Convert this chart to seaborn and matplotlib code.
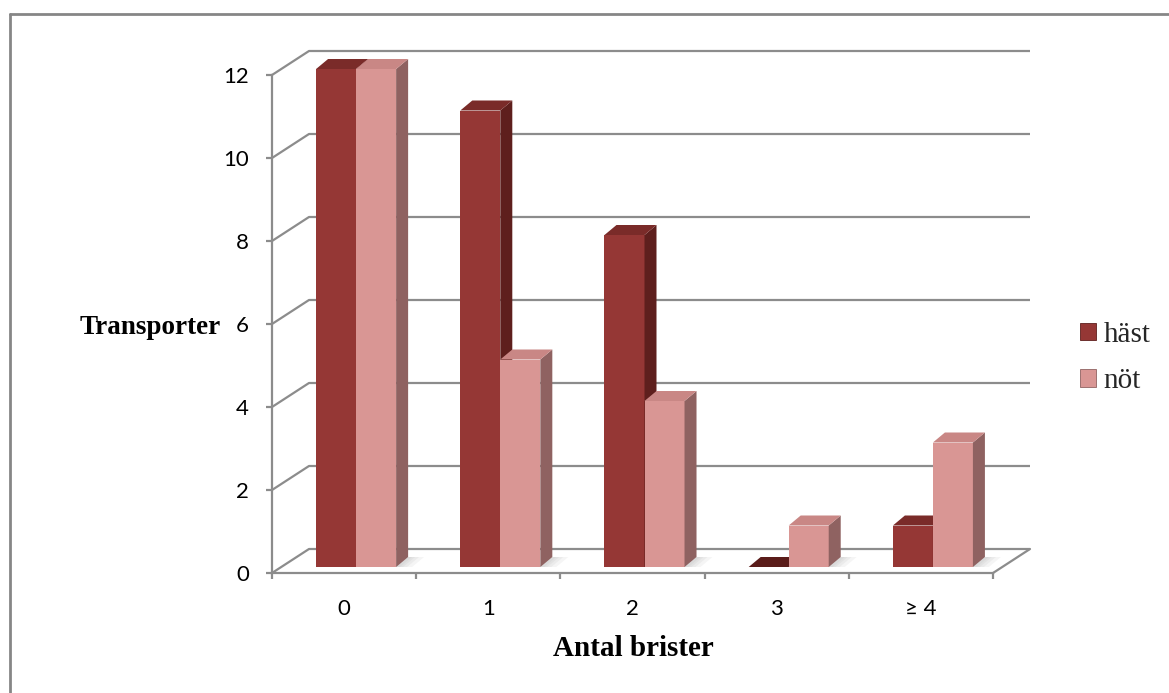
import pandas as pd
import matplotlib
matplotlib.use("Agg")
import matplotlib.pyplot as plt
from matplotlib.patches import Polygon, Patch
from matplotlib.lines import Line2D
import seaborn as sns

# ---- data ----
categories = ["0", "1", "2", "3", "≥ 4"]
series = ["häst", "nöt"]
hast = [12, 11, 8, 0, 1]
not_vals = [12, 5, 4, 1, 3]
yticks = [0, 2, 4, 6, 8, 10, 12]

# ---- styling ----
front_colors = ["#953735", "#D99694"]
top_colors = ["#7A2B29", "#C98785"]
side_colors = ["#5E1F1D", "#8F6261"]
grid_color = "#8C8C8C"

df = pd.DataFrame({
    "Antal brister": categories * 2,
    "Transporter": hast + not_vals,
    "djur": [series[0]] * len(categories) + [series[1]] * len(categories),
})

sns.set_theme(style="white")
plt.rcParams["font.family"] = ["Lato", "DejaVu Sans"]

W, H = 1169, 693
fig = plt.figure(figsize=(W / 100, H / 100), dpi=100)
fig.patch.set_facecolor("white")

# front plane of the plot box (pixels from the top-left corner)
x_left, x_right, y_zero, y_top = 272, 993, 573, 75
ax = fig.add_axes([x_left / W, 1 - y_zero / H,
                   (x_right - x_left) / W, (y_zero - y_top) / H])

sns.barplot(data=df, x="Antal brister", y="Transporter", hue="djur",
            order=categories, hue_order=series, palette=front_colors,
            saturation=1, width=0.555, errorbar=None, legend=False,
            linewidth=0, ax=ax)

ax.set_xlim(-0.5, len(categories) - 0.5)
ax.set_ylim(0, 12)

# pixel -> data unit conversions
ux = len(categories) / (x_right - x_left)
uy = 12 / (y_zero - y_top)
DX, DY = 37 * ux, 24 * uy          # depth of the floor / walls
OX, OY = 12 * ux, 6 * uy           # bars sit slightly behind the front edge
BX, BY = 12 * ux, 10 * uy          # depth of each bar
x0_axis, x1_axis = -0.5, len(categories) - 0.5

# back wall gridlines with the oblique side-wall segments
for v in yticks:
    ax.plot([x0_axis, x0_axis + DX, x1_axis + DX], [v, v + DY, v + DY],
            color=grid_color, lw=1.6, clip_on=False, zorder=1,
            solid_capstyle="butt")
# right edge of the floor
ax.plot([x1_axis, x1_axis + DX], [0, DY], color=grid_color, lw=1.6,
        clip_on=False, zorder=1)

# 3D faces for each bar
for k, cont in enumerate(ax.containers):
    z = 3 + k
    for p in cont.patches:
        p.set_x(p.get_x() + OX)
        p.set_y(OY)
        p.set_zorder(z)
        p.set_linewidth(0)
        p.set_clip_on(False)
        bx0 = p.get_x()
        bx1 = bx0 + p.get_width()
        y0 = OY
        y1 = OY + p.get_height()
        if k == len(ax.containers) - 1:
            # soft floor shadow next to the group
            for grow in [16, 11, 7, 4]:
                g = grow * ux
                shadow = Polygon([(bx1 - 0.02, y0), (bx1 + g, y0),
                                  (bx1 + BX + g, y0 + BY), (bx1 + BX, y0 + BY)],
                                 closed=True, facecolor="#808080", alpha=0.08,
                                 lw=0, zorder=2, clip_on=False)
                ax.add_patch(shadow)
        side = Polygon([(bx1, y0), (bx1, y1), (bx1 + BX, y1 + BY), (bx1 + BX, y0 + BY)],
                       closed=True, facecolor=side_colors[k], lw=0, zorder=z,
                       clip_on=False)
        top = Polygon([(bx0, y1), (bx1, y1), (bx1 + BX, y1 + BY), (bx0 + BX, y1 + BY)],
                      closed=True, facecolor=top_colors[k] if p.get_height() > 0 else "#5A1C1A",
                      lw=0, zorder=z, clip_on=False)
        ax.add_patch(side)
        ax.add_patch(top)

# spines and ticks
for s in ["top", "right"]:
    ax.spines[s].set_visible(False)
for s in ["left", "bottom"]:
    ax.spines[s].set_color(grid_color)
    ax.spines[s].set_linewidth(1.6)
    ax.spines[s].set_zorder(2)

ax.set_yticks(yticks)
ax.set_yticklabels([str(v) for v in yticks])
ax.set_xticks([i - 0.5 for i in range(len(categories) + 1)])
ax.set_xticklabels([""] * (len(categories) + 1))
ax.set_xticks(range(len(categories)), minor=True)
ax.set_xticklabels(categories, minor=True)
ax.tick_params(axis="y", which="major", left=True, direction="out", length=4.5,
               width=1.6, color=grid_color, pad=12, labelsize=16, labelcolor="black")
ax.tick_params(axis="x", which="major", bottom=True, direction="out", length=4.5,
               width=1.6, color=grid_color)
ax.tick_params(axis="x", which="minor", bottom=True, length=0, pad=19,
               labelsize=16, labelcolor="black")
ax.grid(False)

ax.set_xlabel("Antal brister", fontdict=dict(family="Liberation Serif", weight="bold", size=21),
              color="black")
ax.xaxis.label.set_va("center")
ax.xaxis.set_label_coords((633 - x_left) / (x_right - x_left), -(648 - y_zero) / (y_zero - y_top))
ax.set_ylabel("Transporter", fontdict=dict(family="Liberation Serif", weight="bold", size=19.5),
              color="black", rotation=0)
ax.yaxis.label.set_va("center")
ax.yaxis.label.set_ha("center")
ax.yaxis.set_label_coords((150 - x_left) / (x_right - x_left), (y_zero - 327) / (y_zero - y_top))

# legend
handles = [Patch(facecolor=c, edgecolor=s, lw=0.6) for c, s in zip(front_colors, side_colors)]
ax.legend(handles, series, loc="center left",
          bbox_to_anchor=(1080 / W, 1 - 358 / H), bbox_transform=fig.transFigure,
          frameon=False, prop=dict(family="Liberation Serif", size=21),
          handlelength=0.55, handleheight=0.55, handletextpad=0.25,
          labelspacing=0.7, borderpad=0, borderaxespad=0)

# chart frame
fig.add_artist(Line2D([9.5 / W, 9.5 / W], [0, 1 - 14 / H], transform=fig.transFigure,
                      color="#868686", lw=2))
fig.add_artist(Line2D([9.5 / W, 1], [1 - 14 / H, 1 - 14 / H], transform=fig.transFigure,
                      color="#868686", lw=2))

fig.savefig("out.png", dpi=100, facecolor="white")
